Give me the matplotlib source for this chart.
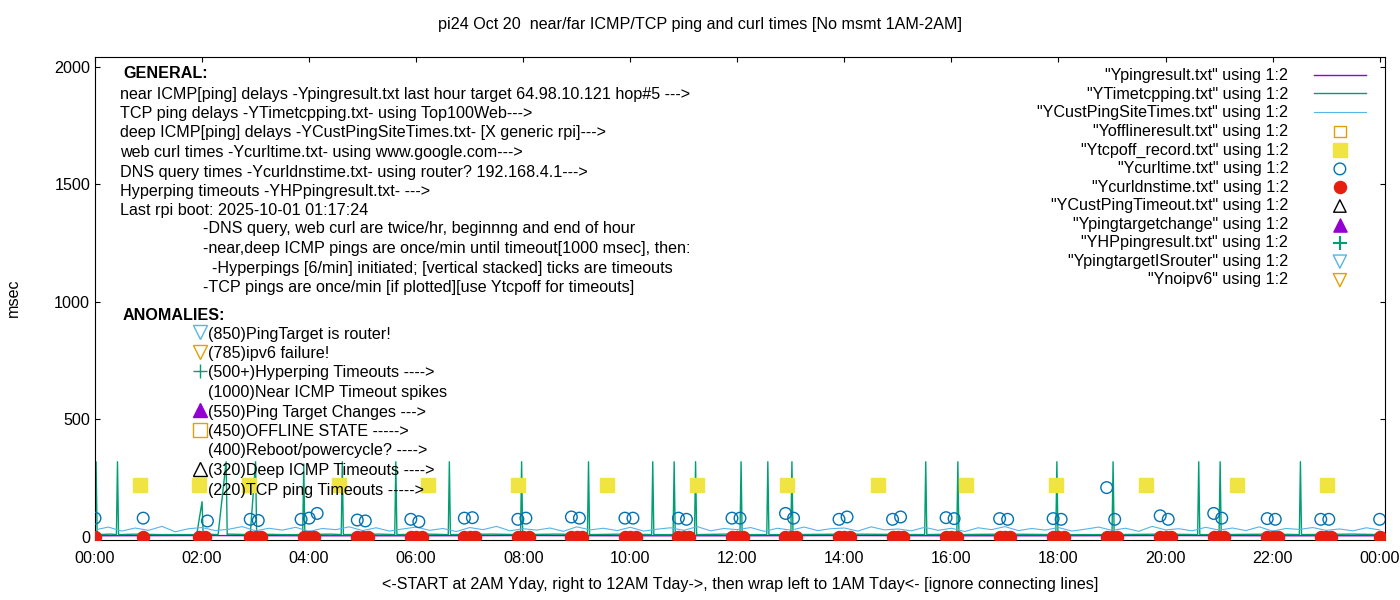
import matplotlib
matplotlib.use("Agg")
import matplotlib.pyplot as plt
plt.rcParams['font.family'] = ['Liberation Sans', 'DejaVu Sans']
FS = 11.6

# ---- data (hours, msec) ----
ping_t = [0, 2, 4, 6, 8, 10, 12, 14, 16, 18, 20, 22, 24]
ping_v = [5, 6, 5, 5, 6, 5, 5, 6, 5, 5, 6, 5, 5]

tcp_t = [0.0, 0.02, 0.04, 0.3, 0.4, 0.42, 0.44, 0.8, 1.2, 1.9, 2.0, 2.02, 2.04, 2.3, 2.45, 2.47, 2.49, 2.9, 3.0,
         3.02, 3.04, 3.5, 3.88, 3.9, 3.92, 4.4, 4.6, 4.62, 4.64, 5.3, 5.6, 5.62, 5.64, 6.2, 6.6, 6.62, 6.64, 7.4,
         7.95, 7.97, 7.99, 8.6, 9.2, 9.22, 9.24, 9.9, 10.4, 10.42, 10.44, 10.8, 10.82, 10.84, 11.2, 11.22, 11.24,
         11.8, 12.05, 12.07, 12.09, 12.5, 12.55, 12.57, 12.59, 13.0, 13.02, 13.04, 14.0, 15.5, 15.52, 15.54, 16.0,
         16.1, 16.12, 16.14, 17.0, 17.95, 17.97, 17.99, 19.0, 19.02, 19.04, 20.0, 20.6, 20.62, 20.64, 21.0, 21.02,
         21.04, 22.0, 22.5, 22.52, 22.54, 23.5, 24.0]
tcp_v = [10, 320, 10, 12, 10, 320, 10, 12, 10, 10, 150, 10, 12, 10, 320, 10, 12, 10, 320,
         10, 12, 10, 10, 310, 10, 12, 10, 320, 10, 12, 10, 320, 10, 12, 10, 320, 10, 12,
         10, 320, 10, 12, 10, 320, 10, 12, 10, 320, 10, 10, 320, 10, 10, 320, 10,
         12, 10, 320, 10, 10, 10, 320, 10, 10, 320, 10, 12, 10, 320, 10, 12,
         10, 320, 10, 12, 10, 320, 10, 10, 320, 10, 12, 10, 320, 10, 10, 320,
         10, 12, 10, 320, 10, 12, 10]

cust_t = [i * 0.25 for i in range(97)]
cust_v = [30, 42, 25, 38, 28, 45, 22, 35, 40, 27, 33, 44, 26, 37, 29, 41, 24, 36, 31, 43, 27, 39, 25, 34,
          42, 28, 36, 23, 40, 31, 45, 26, 35, 29, 38, 24, 43, 30, 37, 27, 41, 25, 33, 39, 28, 44, 26, 36,
          31, 40, 24, 37, 29, 42, 27, 35, 38, 25, 43, 30, 34, 26, 41, 28, 37, 23, 39, 31, 44, 27, 36, 29,
          40, 25, 33, 42, 28, 37, 24, 45, 30, 35, 26, 41, 29, 38, 27, 43, 25, 36, 32, 40, 28, 34, 26, 39, 30]

tcpoff_t = [0.84, 1.94, 2.88, 4.56, 6.22, 7.91, 9.57, 11.25, 12.93, 14.62, 16.28, 17.96, 19.64, 21.33, 23.01]
tcpoff_v = [220] * 15

curl_t = [0.0, 0.9, 2.1, 2.9, 3.05, 3.85, 4.0, 4.15, 4.9, 5.05, 5.9, 6.05, 6.9, 7.05, 7.9, 8.05, 8.9, 9.05,
          9.9, 10.05, 10.9, 11.05, 11.9, 12.05, 12.9, 13.05, 13.9, 14.05, 14.9, 15.05, 15.9, 16.05, 16.9, 17.05,
          17.9, 18.05, 18.9, 19.05, 19.9, 20.05, 20.9, 21.05, 21.9, 22.05, 22.9, 23.05, 24.0]
curl_v = [80, 80, 68, 75, 70, 75, 80, 100, 72, 68, 75, 65, 80, 82, 75, 80, 85, 80,
          80, 80, 80, 75, 80, 80, 100, 80, 75, 85, 75, 85, 82, 78, 78, 75,
          78, 75, 210, 75, 90, 75, 100, 80, 78, 75, 75, 75, 75]

dns_t = [0.0, 0.9, 1.95, 2.05, 2.9, 3.0, 3.1, 3.9, 4.0, 4.1, 4.9, 5.0, 5.1, 5.9, 6.0, 6.1, 6.9, 7.0, 7.1,
         7.9, 8.0, 8.1, 8.9, 9.0, 9.1, 9.9, 10.0, 10.1, 10.9, 11.0, 11.1, 11.9, 12.0, 12.1, 12.9, 13.0, 13.1,
         13.9, 14.0, 14.1, 14.9, 15.0, 15.1, 15.9, 16.0, 16.1, 16.9, 17.0, 17.1, 17.9, 18.0, 18.1, 18.9, 19.0,
         19.1, 19.9, 20.0, 20.1, 20.9, 21.0, 21.1, 21.9, 22.0, 22.1, 22.9, 23.0, 23.1, 24.0]
dns_v = [0] * len(dns_t)

xticks = list(range(0, 25, 2))
xlabels = ["%02d:00" % (h % 24) for h in xticks]
yticks = [0, 500, 1000, 1500, 2000]

fig = plt.figure(figsize=(14, 6), dpi=100)
ax = fig.add_axes([95 / 1400, 60 / 600, 1290 / 1400, 483 / 600])
ax.set_xlim(0, 24.1)
ax.set_ylim(-13, 2042)

ax.plot(ping_t, ping_v, color="#9400d3", lw=1, label='"Ypingresult.txt" using 1:2')
ax.plot(tcp_t, tcp_v, color="#009e73", lw=1, label='"YTimetcpping.txt" using 1:2')
ax.plot(cust_t, cust_v, color="#56b4e9", lw=0.8, label='"YCustPingSiteTimes.txt" using 1:2')
ax.scatter([], [], marker="s", facecolors="none", edgecolors="#e69f00", s=70, label='"Yofflineresult.txt" using 1:2')
ax.scatter(tcpoff_t, tcpoff_v, marker="s", color="#f0e442", s=110, label='"Ytcpoff_record.txt" using 1:2', zorder=3)
ax.scatter(curl_t, curl_v, marker="o", facecolors="none", edgecolors="#0072b2", s=70, lw=1, label='"Ycurltime.txt" using 1:2', zorder=3)
ax.scatter(dns_t, dns_v, marker="o", color="#e51e10", s=75, label='"Ycurldnstime.txt" using 1:2', zorder=4)
ax.scatter([], [], marker="^", facecolors="none", edgecolors="black", s=80, label='"YCustPingTimeout.txt" using 1:2')
ax.scatter([], [], marker="^", color="#9400d3", s=90, label='"Ypingtargetchange" using 1:2')
ax.scatter([], [], marker="+", color="#009e73", s=90, label='"YHPpingresult.txt" using 1:2')
ax.scatter([], [], marker="v", facecolors="none", edgecolors="#56b4e9", s=90, label='"YpingtargetISrouter" using 1:2')
ax.scatter([], [], marker="v", facecolors="none", edgecolors="#e69f00", s=90, label='"Ynoipv6" using 1:2')

ax.set_xticks(xticks)
ax.set_xticklabels(xlabels)
ax.set_yticks(yticks)
ax.tick_params(direction="in", labelsize=FS, top=True, right=True)
ax.tick_params(axis="x", pad=8)
fig.text(13 / 1400, 1 - 298 / 600, "msec", rotation=90, ha="center", va="center", fontsize=FS)
ax.set_xlabel("<-START at 2AM Yday, right to 12AM Tday->, then wrap left to 1AM Tday<- [ignore connecting lines]", fontsize=FS, labelpad=8)
fig.text(0.5, 1 - 25 / 600, "pi24 Oct 20  near/far ICMP/TCP ping and curl times [No msmt 1AM-2AM]",
         ha="center", va="center", fontsize=FS)

leg = ax.legend(loc="upper right", frameon=False, fontsize=FS, markerfirst=False, handlelength=3.2,
                labelspacing=0.22, borderaxespad=0.0, handletextpad=1.6, bbox_to_anchor=(0.99, 0.99))

def ft(x, y, s, **kw):
    fig.text(x / 1400, 1 - y / 600, s, va="center", fontsize=FS, **kw)

ft(123, 74, "GENERAL:", fontweight="bold")
gen = ["near ICMP[ping] delays -Ypingresult.txt last hour target 64.98.10.121 hop#5 --->",
       "TCP ping delays -YTimetcpping.txt- using Top100Web--->",
       "deep ICMP[ping] delays -YCustPingSiteTimes.txt- [X generic rpi]--->",
       "web curl times -Ycurltime.txt- using www.google.com--->",
       "DNS query times -Ycurldnstime.txt- using router? 192.168.4.1--->",
       "Hyperping timeouts -YHPpingresult.txt- --->",
       "Last rpi boot: 2025-10-01 01:17:24"]
for i, s in enumerate(gen):
    ft(120, 94 + i * 19.5, s)
notes = ["-DNS query, web curl are twice/hr, beginnng and end of hour",
         "-near,deep ICMP pings are once/min until timeout[1000 msec], then:",
         "  -Hyperpings [6/min] initiated; [vertical stacked] ticks are timeouts",
         "-TCP pings are once/min [if plotted][use Ytcpoff for timeouts]"]
for i, s in enumerate(notes):
    ft(203, 229 + i * 19.5, s)
ft(123, 315, "ANOMALIES:", fontweight="bold")
anom = [("(850)PingTarget is router!", "v", "none", "#56b4e9"),
        ("(785)ipv6 failure!", "v", "none", "#e69f00"),
        ("(500+)Hyperping Timeouts ---->", "+", "#009e73", "#009e73"),
        ("(1000)Near ICMP Timeout spikes", None, None, None),
        ("(550)Ping Target Changes --->", "^", "#9400d3", "#9400d3"),
        ("(450)OFFLINE STATE ----->", "s", "none", "#e69f00"),
        ("(400)Reboot/powercycle? ---->", None, None, None),
        ("(320)Deep ICMP Timeouts ---->", "^", "none", "black"),
        ("(220)TCP ping Timeouts ----->", None, None, None)]
for i, (s, m, fc, ec) in enumerate(anom):
    y = 334 + i * 19.5
    ft(208, y, s)
    if m:
        fig.add_artist(plt.Line2D([200 / 1400], [1 - (y - 2) / 600], marker=m, markersize=10,
                                  markerfacecolor=fc, markeredgecolor=ec, color=ec, lw=0,
                                  transform=fig.transFigure))

fig.savefig("out.png", dpi=100)
